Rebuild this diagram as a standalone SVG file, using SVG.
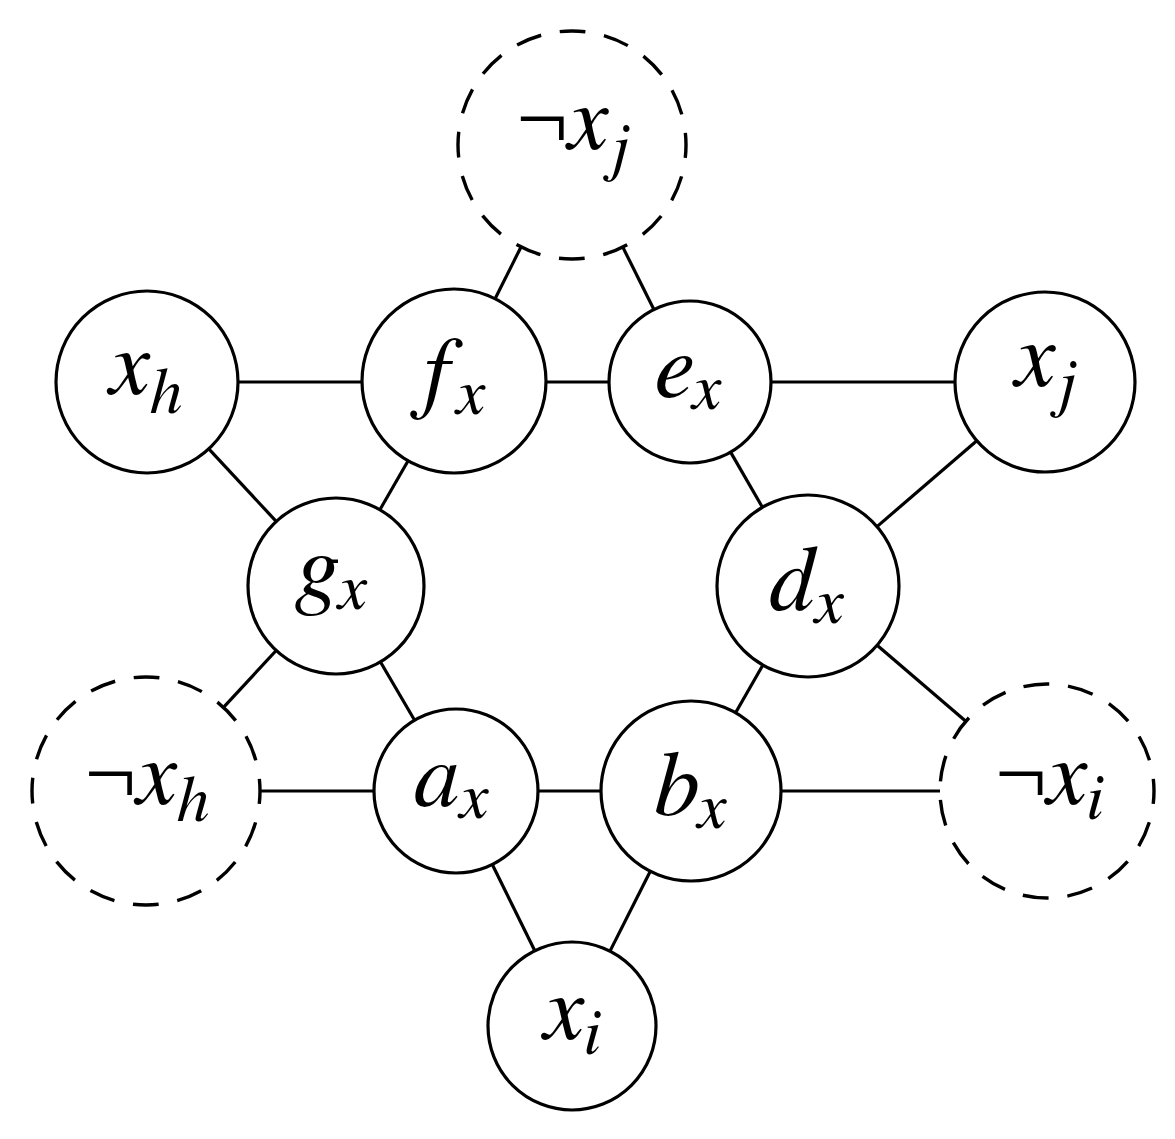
<svg xmlns="http://www.w3.org/2000/svg" width="1175" height="1139" viewBox="0 0 1175 1139">
<style>
.n{fill:#fff;stroke:#000;stroke-width:3.2}
.d{fill:#fff;stroke:#000;stroke-width:3.4;stroke-dasharray:26 18.77;stroke-dashoffset:13}
.d2{fill:#fff;stroke:#000;stroke-width:3.4;stroke-dasharray:26 18.82;stroke-dashoffset:13}
.e line{stroke:#000;stroke-width:3.2}
.t{font-family:FreeSerif,"Liberation Serif",serif;font-style:italic;font-size:92px;fill:#000;text-anchor:middle}
.s{font-size:66px}
.g{font-family:"Liberation Serif",serif;font-style:normal}
</style>
<rect width="1175" height="1139" fill="#fff"/>
<g id="connectors" class="e">
<line x1="521" y1="247" x2="495.1" y2="298.7"/>
<line x1="622.8" y1="247.1" x2="653.9" y2="309.5"/>
<line x1="238" y1="382" x2="362" y2="382"/>
<line x1="546" y1="382" x2="609" y2="382"/>
<line x1="771" y1="382" x2="955" y2="382"/>
<line x1="208.8" y1="448.8" x2="276.2" y2="521.4"/>
<line x1="408.1" y1="460.7" x2="379.9" y2="509.7"/>
<line x1="730.6" y1="452.1" x2="762.4" y2="507.2"/>
<line x1="976.8" y1="440.7" x2="877" y2="526.6"/>
<line x1="276.2" y1="650.5" x2="223.5" y2="707.4"/>
<line x1="380.5" y1="662" x2="414.6" y2="720.2"/>
<line x1="762.9" y1="665" x2="735.6" y2="712.8"/>
<line x1="877.1" y1="645.2" x2="965.8" y2="721.3"/>
<line x1="260" y1="791" x2="374" y2="791"/>
<line x1="538" y1="791" x2="601" y2="791"/>
<line x1="781" y1="791" x2="940" y2="791"/>
<line x1="492.3" y1="864.5" x2="534.8" y2="950.7"/>
<line x1="650.3" y1="871.3" x2="610" y2="951.1"/>
</g>
<g id="not_xj"><circle class="d" cx="572" cy="145" r="114"/><text class="t" x="572" y="149"><tspan class="g">¬</tspan>x<tspan class="s" dy="19">j</tspan></text></g>
<g id="xh"><circle class="n" cx="147" cy="382" r="91"/><text class="t" x="146" y="394">x<tspan class="s" dy="19">h</tspan></text></g>
<g id="fx"><circle class="n" cx="454" cy="381" r="92"/><text class="t" x="451" y="401">f<tspan class="s" dy="13">x</tspan></text></g>
<g id="ex"><circle class="n" cx="690" cy="382" r="81"/><text class="t" x="688" y="397">e<tspan class="s" dy="12">x</tspan></text></g>
<g id="xj"><circle class="n" cx="1045" cy="382" r="90"/><text class="t" x="1045" y="386">x<tspan class="s" dy="18">j</tspan></text></g>
<g id="gx"><circle class="n" cx="336" cy="586" r="88"/><text class="t" x="332" y="597">g<tspan class="s" dy="12">x</tspan></text></g>
<g id="dx"><circle class="n" cx="808" cy="586" r="91"/><text class="t" x="806" y="610">d<tspan class="s" dy="13">x</tspan></text></g>
<g id="not_xh"><circle class="d" cx="146" cy="791" r="114"/><text class="t" x="147" y="804"><tspan class="g">¬</tspan>x<tspan class="s" dy="17">h</tspan></text></g>
<g id="ax"><circle class="n" cx="456" cy="791" r="82"/><text class="t" x="451" y="806">a<tspan class="s" dy="12">x</tspan></text></g>
<g id="bx"><circle class="n" cx="691" cy="791" r="90"/><text class="t" x="690" y="815">b<tspan class="s" dy="13">x</tspan></text></g>
<g id="not_xi"><circle class="d2" cx="1047" cy="791" r="107"/><text class="t" x="1049" y="804"><tspan class="g">¬</tspan>x<tspan class="s" dy="15">i</tspan></text></g>
<g id="xi"><circle class="n" cx="572" cy="1026" r="84"/><text class="t" x="572" y="1039">x<tspan class="s" dy="15">i</tspan></text></g>
</svg>
